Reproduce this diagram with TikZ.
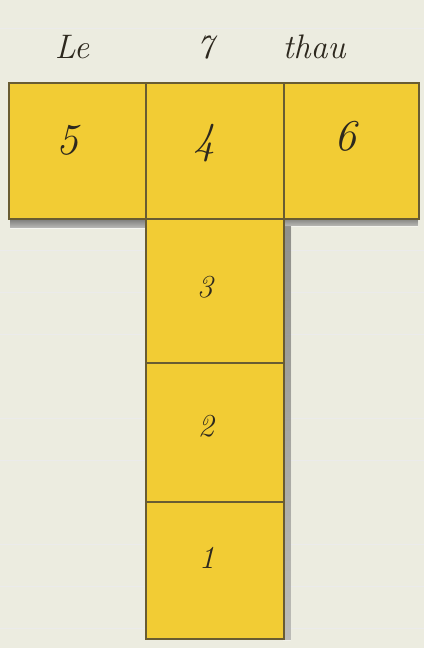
\documentclass[tikz,border=0pt]{standalone}
\usetikzlibrary{calc}
\definecolor{paper}{RGB}{236,236,224}
\definecolor{ochre}{RGB}{242,204,52}
\definecolor{ink}{RGB}{105,92,50}
\definecolor{pen}{RGB}{45,40,30}
\definecolor{shade}{RGB}{120,110,90}
\tikzset{
  cell/.style={draw=ink, line width=0.8pt, fill=ochre, inner sep=0pt, anchor=north west},
  digit/.style={text=pen, font=\itshape\fontsize{22}{22}\selectfont},
  small digit/.style={text=pen, font=\itshape\fontsize{16}{16}\selectfont},
  title/.style={text=pen, font=\itshape\fontsize{17}{17}\selectfont, anchor=base}
}
\begin{document}
\begin{tikzpicture}[x=0.5pt,y=-0.5pt]
\fill[paper] (0,0) rectangle (424,648);
\useasboundingbox (0,0) rectangle (424,648);
% faint ruled lines
\foreach \yy in {28,250,292,334,418,460,544,586,628}
  \draw[black!8, line width=0.3pt] (0,\yy) -- (424,\yy);
% shadows
\fill[shade, opacity=0.55] (10,218) rectangle (146,228);
\fill[shade, opacity=0.45] (283,218) rectangle (418,226);
\fill[shade, opacity=0.35] (283,226) rectangle (291,640);
% cells
\node[cell, minimum width=137*0.5pt, minimum height=136*0.5pt] (c5) at (8,82) {};
\node[cell, minimum width=138*0.5pt, minimum height=136*0.5pt] (c4) at (145,82) {};
\node[cell, minimum width=135*0.5pt, minimum height=136*0.5pt] (c6) at (283,82) {};
\node[cell, minimum width=138*0.5pt, minimum height=144*0.5pt] (c3) at (145,218) {};
\node[cell, minimum width=138*0.5pt, minimum height=139*0.5pt] (c2) at (145,362) {};
\node[cell, minimum width=138*0.5pt, minimum height=137*0.5pt] (c1) at (145,501) {};
% digits
\node[digit] (d5) at ($(c5.center)+(-10,-10)$) {5};
\node[digit] (d4) at ($(c4.center)+(-10,-8)$) {4};
\node[digit] (d6) at ($(c6.center)+(-6,-14)$) {6};
\node[small digit] (d3) at ($(c3.center)+(-10,-4)$) {3};
\node[small digit] (d2) at ($(c2.center)+(-9,-6)$) {2};
\node[small digit] (d1) at ($(c1.center)+(-8,-12)$) {1};
% title
\node[title] (tle) at (72,58) {Le};
\node[title] (t7) at (205,58) {7};
\node[title] (tth) at (314,58) {thau};
\end{tikzpicture}
\end{document}
